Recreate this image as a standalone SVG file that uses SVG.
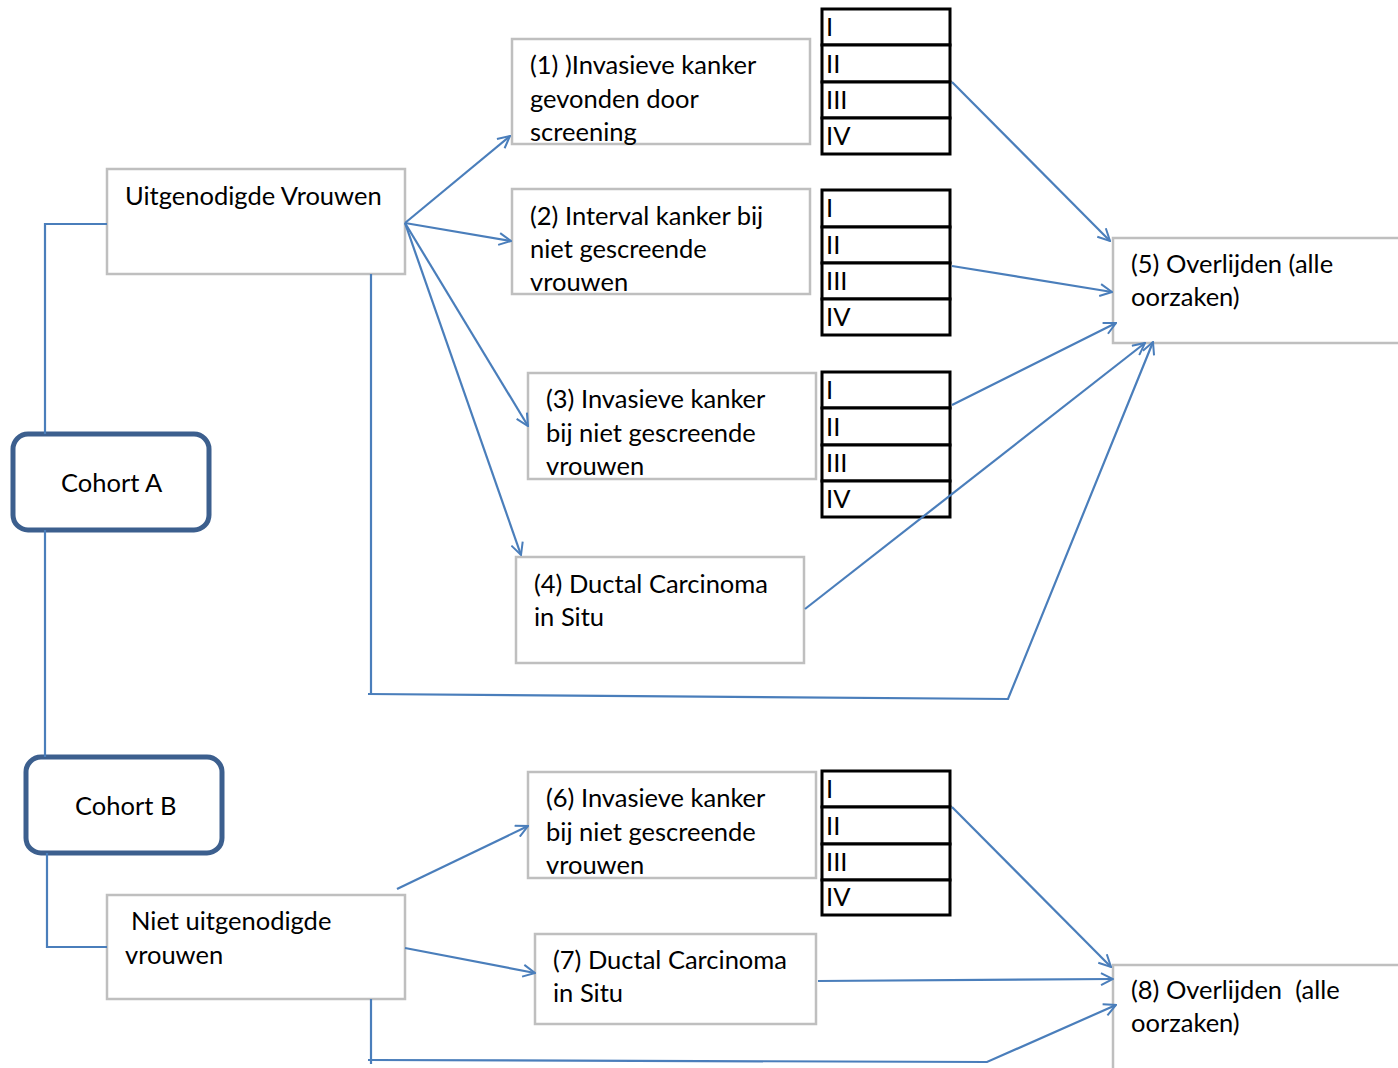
<svg xmlns="http://www.w3.org/2000/svg" width="1398" height="1068" viewBox="0 0 1398 1068">
<defs>
<style>
.box{fill:#fff;stroke:#bfbfbf;stroke-width:2.5}
.cohort{fill:#fff;stroke:#3c5f8e;stroke-width:5}
.tbl{fill:#fff;stroke:#000;stroke-width:3}
.t{font-family:Lato,"Liberation Sans",sans-serif;font-size:25.5px;fill:#000}
.c{stroke:#4a7ebb;stroke-width:2.2;fill:none}
.a{stroke:#4a7ebb;stroke-width:2.2;fill:none;marker-end:url(#arr)}
</style>
<marker id="arr" viewBox="0 0 14 14" refX="13" refY="7" markerWidth="14" markerHeight="14" markerUnits="userSpaceOnUse" orient="auto">
<path d="M1,1 L13,7 L1,13" fill="none" stroke="#4a7ebb" stroke-width="2"/>
</marker>
</defs>
<rect width="1398" height="1068" fill="#fff"/>
<g id="cohortA"><rect class="cohort" x="13" y="434" width="196" height="96" rx="15"/><text class="t" x="61" y="492">Cohort A</text></g>
<g id="cohortB"><rect class="cohort" x="26" y="757" width="196" height="96" rx="15"/><text class="t" x="75" y="815">Cohort B</text></g>
<g id="uitgenodigd"><rect class="box" x="107" y="169" width="298" height="105"/><text class="t" x="125" y="205">Uitgenodigde Vrouwen</text></g>
<g id="niet"><rect class="box" x="107" y="895" width="298" height="104"/><text class="t" x="131" y="930">Niet uitgenodigde</text><text class="t" x="125" y="964">vrouwen</text></g>
<g id="n1"><rect class="box" x="512" y="39" width="298" height="105"/><text class="t" x="530" y="74">(1) )Invasieve kanker</text><text class="t" x="530" y="108">gevonden door</text><text class="t" x="530" y="141">screening</text></g>
<g id="n2"><rect class="box" x="512" y="189" width="298" height="105"/><text class="t" x="530" y="225">(2) Interval kanker bij</text><text class="t" x="530" y="258">niet gescreende</text><text class="t" x="530" y="291">vrouwen</text></g>
<g id="n3"><rect class="box" x="528" y="373" width="288" height="106"/><text class="t" x="546" y="408">(3) Invasieve kanker</text><text class="t" x="546" y="442">bij niet gescreende</text><text class="t" x="546" y="475">vrouwen</text></g>
<g id="n4"><rect class="box" x="516" y="557" width="288" height="106"/><text class="t" x="534" y="593">(4) Ductal Carcinoma</text><text class="t" x="534" y="626">in Situ</text></g>
<g id="n5"><rect class="box" x="1113" y="238" width="290" height="105"/><text class="t" x="1131" y="273">(5) Overlijden (alle</text><text class="t" x="1131" y="306">oorzaken)</text></g>
<g id="n6"><rect class="box" x="528" y="772" width="288" height="106"/><text class="t" x="546" y="807">(6) Invasieve kanker</text><text class="t" x="546" y="841">bij niet gescreende</text><text class="t" x="546" y="874">vrouwen</text></g>
<g id="n7"><rect class="box" x="535" y="934" width="281" height="90"/><text class="t" x="553" y="969">(7) Ductal Carcinoma</text><text class="t" x="553" y="1002">in Situ</text></g>
<g id="n8"><rect class="box" x="1113" y="965" width="290" height="110"/><text class="t" x="1131" y="999" xml:space="preserve">(8) Overlijden  (alle</text><text class="t" x="1131" y="1032">oorzaken)</text></g>
<g id="stages1">
<rect class="tbl" x="822" y="9" width="128" height="36"/><rect class="tbl" x="822" y="45" width="128" height="37"/><rect class="tbl" x="822" y="82" width="128" height="36"/><rect class="tbl" x="822" y="118" width="128" height="36"/>
<text class="t" x="826" y="36">I</text><text class="t" x="826" y="73">II</text><text class="t" x="826" y="109">III</text><text class="t" x="826" y="145">IV</text>
</g>
<g id="stages2">
<rect class="tbl" x="822" y="190" width="128" height="37"/><rect class="tbl" x="822" y="227" width="128" height="36"/><rect class="tbl" x="822" y="263" width="128" height="36"/><rect class="tbl" x="822" y="299" width="128" height="36"/>
<text class="t" x="826" y="217">I</text><text class="t" x="826" y="254">II</text><text class="t" x="826" y="290">III</text><text class="t" x="826" y="326">IV</text>
</g>
<g id="stages3">
<rect class="tbl" x="822" y="372" width="128" height="36"/><rect class="tbl" x="822" y="408" width="128" height="37"/><rect class="tbl" x="822" y="445" width="128" height="36"/><rect class="tbl" x="822" y="481" width="128" height="36"/>
<text class="t" x="826" y="399">I</text><text class="t" x="826" y="436">II</text><text class="t" x="826" y="472">III</text><text class="t" x="826" y="508">IV</text>
</g>
<g id="stages4">
<rect class="tbl" x="822" y="771" width="128" height="36"/><rect class="tbl" x="822" y="807" width="128" height="37"/><rect class="tbl" x="822" y="844" width="128" height="36"/><rect class="tbl" x="822" y="880" width="128" height="35"/>
<text class="t" x="826" y="798">I</text><text class="t" x="826" y="835">II</text><text class="t" x="826" y="871">III</text><text class="t" x="826" y="906">IV</text>
</g>
<g id="connectors">
<path class="c" d="M107,224 H45 V434"/>
<path class="c" d="M45,530 V757"/>
<path class="c" d="M47,853 V947 H107"/>
<path class="a" d="M405,223 L510,136"/>
<path class="a" d="M405,223 L511,241"/>
<path class="a" d="M405,223 L528,426"/>
<path class="a" d="M405,223 L521,555"/>
<path class="c" d="M371,274 V694"/>
<path class="a" d="M368,694 L1008,699 L1153,342"/>
<path class="a" d="M952,82 L1110,241"/>
<path class="a" d="M952,266 L1112,292"/>
<path class="a" d="M952,405 L1116,323"/>
<path class="a" d="M805,609 L1145,343"/>
<path class="a" d="M397,889 L528,826"/>
<path class="a" d="M405,948 L535,973"/>
<path class="a" d="M818,981 L1113,979"/>
<path class="a" d="M952,807 L1111,967"/>
<path class="c" d="M371,999 V1064"/>
<path class="a" d="M368,1060 L987,1062 L1116,1005"/>
</g>
</svg>
